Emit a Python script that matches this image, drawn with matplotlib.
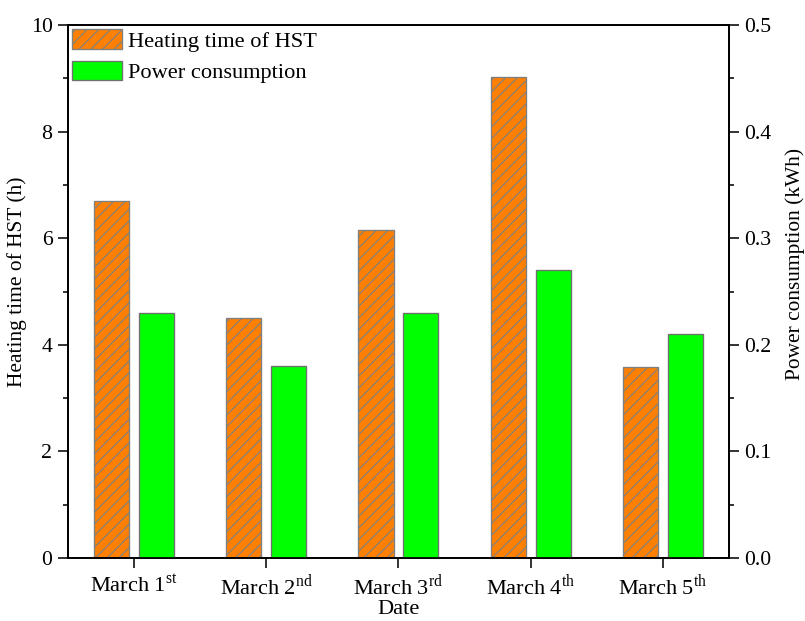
import matplotlib.pyplot as plt
import numpy as np
from matplotlib.ticker import MultipleLocator
from matplotlib.patches import Patch

# heating time and power draw per day
dates = ['March 1$^{\\mathrm{st}}$', 'March 2$^{\\mathrm{nd}}$', 'March 3$^{\\mathrm{rd}}$',
         'March 4$^{\\mathrm{th}}$', 'March 5$^{\\mathrm{th}}$']
heating_hours = [6.7, 4.5, 6.15, 9.02, 3.58]
power_kwh = [0.23, 0.18, 0.23, 0.27, 0.21]

plt.rcParams['font.family'] = ['Liberation Serif', 'DejaVu Serif']
plt.rcParams['mathtext.fontset'] = 'custom'
plt.rcParams['mathtext.rm'] = 'Liberation Serif'
plt.rcParams['hatch.linewidth'] = 0.6

DPI = 140
fig = plt.figure(figsize=(805 / DPI, 621 / DPI), dpi=DPI)
ax = fig.add_axes([0.0845, 0.1014, 0.821, 0.8583])
ax2 = ax.twinx()

x = np.arange(1, len(dates) + 1)
w = 0.265
off = 0.17

ax.bar(x - off, heating_hours, w, color='#ff8000', edgecolor='#808080',
       linewidth=0.7, hatch='////', zorder=2)
ax2.bar(x + off, power_kwh, w, color='#00ff00', edgecolor='#707070',
        linewidth=0.7, zorder=2)

fs = 11.5
yfs = 11.2
ax.set_xlim(0.5, 5.5)
ax.set_ylim(0, 10)
ax2.set_ylim(0, 0.5)
ax.set_xticks(x)
ax.set_xticklabels(dates, fontsize=fs)
ax.yaxis.set_major_locator(MultipleLocator(2))
ax.yaxis.set_minor_locator(MultipleLocator(1))
ax2.yaxis.set_major_locator(MultipleLocator(0.1))
ax2.yaxis.set_minor_locator(MultipleLocator(0.05))
ax2.set_yticklabels([f'{v:.1f}' for v in ax2.get_yticks()], fontsize=yfs)
ax.set_yticklabels([f'{v:g}' for v in ax.get_yticks()], fontsize=yfs)

for a in (ax, ax2):
    a.tick_params(which='major', direction='out', length=5, width=0.8, pad=3)
    a.tick_params(which='minor', direction='out', length=2.6, width=0.8)
    for s in a.spines.values():
        s.set_linewidth(0.9)

ax.set_xlabel('Date', fontsize=fs, labelpad=0)
ax.set_ylabel('Heating time of HST (h)', fontsize=11)
ax2.set_ylabel('Power consumption (kWh)', fontsize=11)
ax.yaxis.set_label_coords(-0.062, 0.518)
ax2.yaxis.set_label_coords(1.085, 0.552)

handles = [Patch(facecolor='#ff8000', edgecolor='#808080', hatch='////', linewidth=0.7),
           Patch(facecolor='#00ff00', edgecolor='#707070', linewidth=0.7)]
ax.legend(handles, ['Heating time of HST', 'Power consumption'], loc='upper left',
          frameon=False, fontsize=fs, handlelength=2.2, handleheight=0.95,
          labelspacing=0.4, handletextpad=0.3, borderpad=0.1, borderaxespad=0.1)

fig.savefig('out.png', dpi=DPI)
